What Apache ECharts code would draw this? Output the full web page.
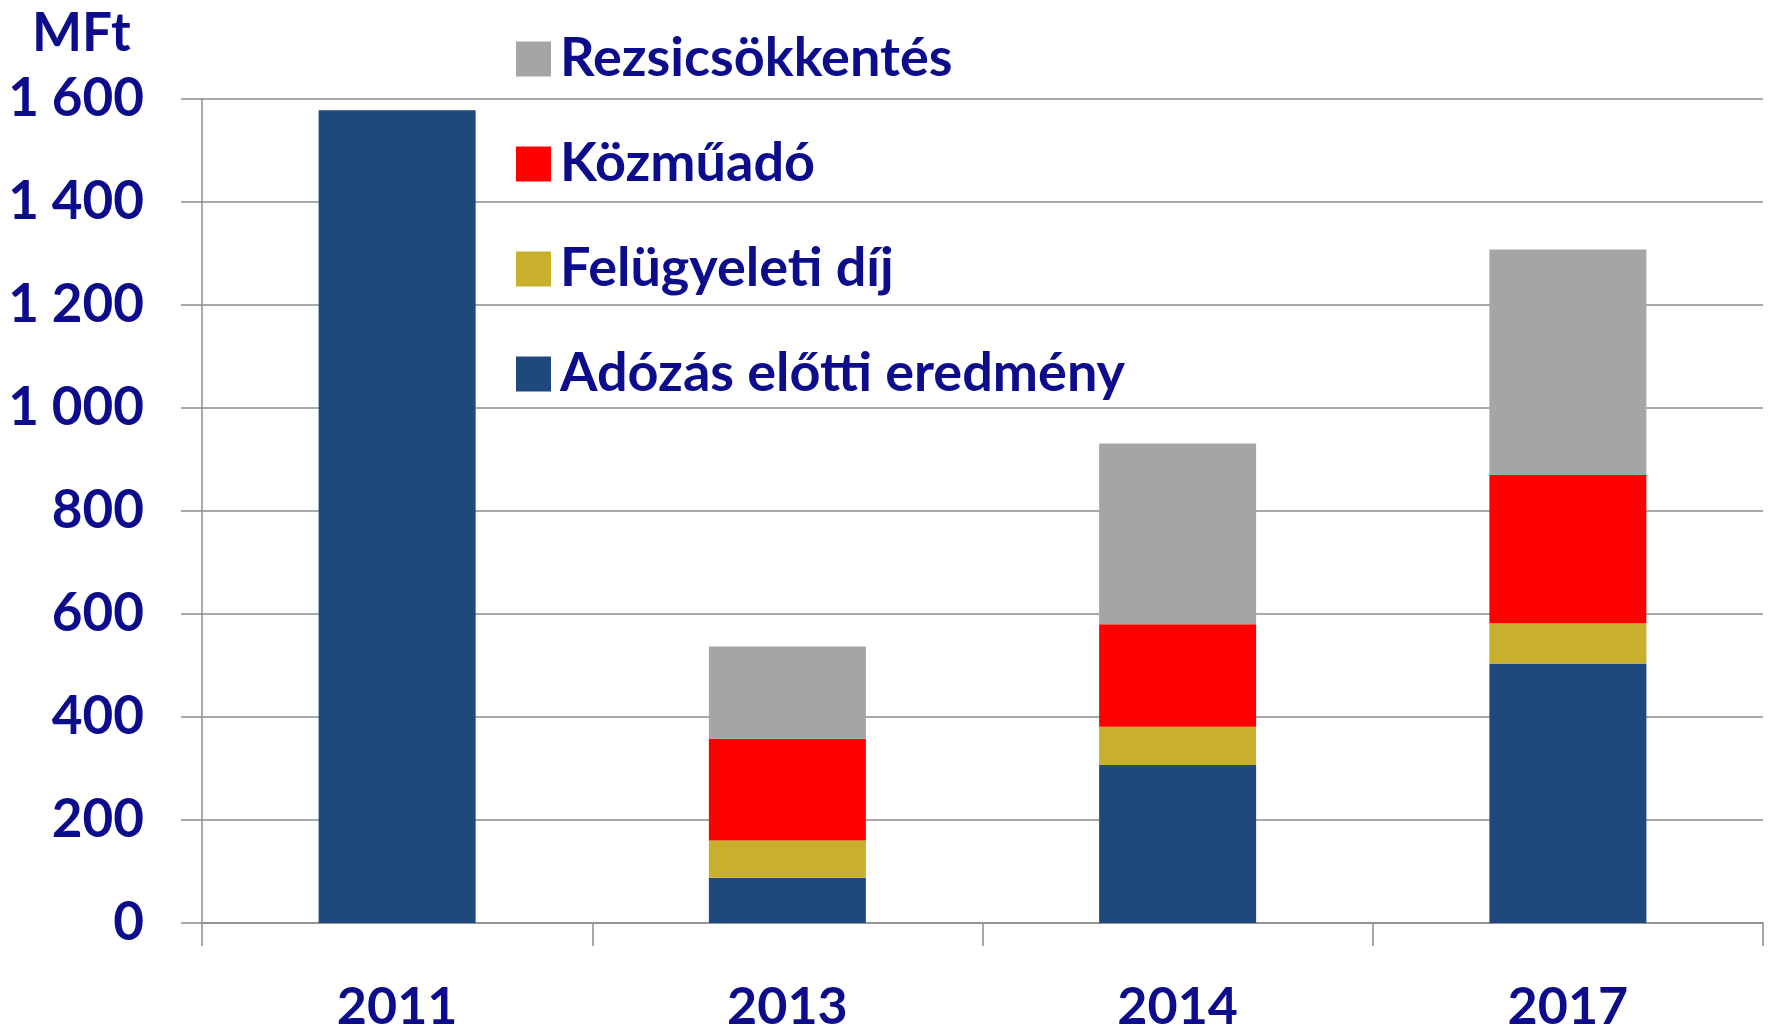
<!DOCTYPE html>
<html>
<head>
<meta charset="utf-8">
<script src="https://cdn.jsdelivr.net/npm/echarts@6/dist/echarts.min.js"></script>
<style>
    html, body { margin: 0; padding: 0; background: #ffffff; }
    #main { width: 1771px; height: 1029px; }
</style>
</head>
<body>
<div id="main"></div>
<script>
// chart data
var years = ['2011', '2013', '2014', '2017'];
var adozasElotti = [1578, 88, 307, 504];
var felugyeleti = [0, 72, 74, 78];
var kozmuado = [0, 198, 199, 288];
var rezsi = [0, 179, 351, 438];
var yTickLabels = ['0', '200', '400', '600', '800', '1 000', '1 200', '1 400', '1 600'];

var textColor = '#0d0d8c';
var gridColor = '#8c8c8c';

function drawChart() {
    var myChart = echarts.init(document.getElementById('main'));

    function stackSeries(name, data, color) {
        return {
            name: name,
            type: 'bar',
            stack: 'total',
            barWidth: 157,
            data: data,
            itemStyle: { color: color },
            emphasis: { disabled: true }
        };
    }

    var option = {
        backgroundColor: '#ffffff',
        animation: false,
        textStyle: { fontFamily: 'Lato', fontWeight: 'bold', color: textColor },
        graphic: [{
            type: 'text',
            left: 32,
            top: 7,
            style: { text: 'MFt', fontSize: 53, fontWeight: 'bold', fontFamily: 'Lato', fill: textColor }
        }],
        legend: {
            orient: 'vertical',
            left: 511,
            top: 27,
            icon: 'rect',
            itemWidth: 35,
            itemHeight: 35,
            itemGap: 51,
            data: ['Rezsicsökkentés', 'Közműadó', 'Felügyeleti díj', 'Adózás előtti eredmény'],
            textStyle: {
                fontSize: 54,
                fontWeight: 'bold',
                fontFamily: 'Lato',
                color: textColor,
                padding: [0, 0, 0, 4]
            }
        },
        grid: { left: 202, right: 8, top: 99, bottom: 106, containLabel: false, outerBoundsMode: 'none' },
        xAxis: {
            type: 'category',
            data: years,
            axisLine: { lineStyle: { color: gridColor, width: 1.5 } },
            axisTick: { show: true, length: 23, lineStyle: { color: gridColor, width: 1.5 } },
            axisLabel: { fontSize: 52, fontWeight: 'bold', color: textColor, margin: 58 }
        },
        yAxis: {
            type: 'value',
            min: 0,
            max: 1600,
            interval: 200,
            axisLine: { show: true, lineStyle: { color: gridColor, width: 1.5 } },
            axisTick: { show: true, inside: false, length: 21, lineStyle: { color: gridColor, width: 1.5 } },
            splitLine: { lineStyle: { color: gridColor, width: 1.5 } },
            axisLabel: {
                fontSize: 53,
                fontWeight: 'bold',
                color: textColor,
                margin: 58,
                formatter: function (v) { return yTickLabels[Math.round(v / 200)]; }
            }
        },
        series: [
            stackSeries('Adózás előtti eredmény', adozasElotti, '#1f497d'),
            stackSeries('Felügyeleti díj', felugyeleti, '#c8af2d'),
            stackSeries('Közműadó', kozmuado, '#ff0000'),
            stackSeries('Rezsicsökkentés', rezsi, '#a5a5a5')
        ]
    };

    myChart.setOption(option);
}

drawChart();
</script>
</body>
</html>
